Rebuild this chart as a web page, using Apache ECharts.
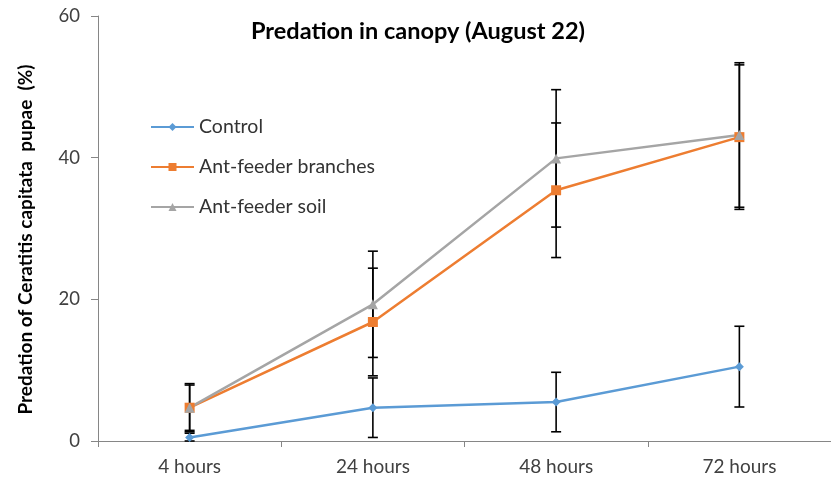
<!DOCTYPE html>
<html>
<head>
<meta charset="utf-8">
<title>Predation in canopy</title>
<script src="https://cdn.jsdelivr.net/npm/echarts@6/dist/echarts.min.js"></script>
<style>
  html, body { margin: 0; padding: 0; background: #fff; }
</style>
</head>
<body>
<div id="chart" style="width: 831px; height: 482px;"></div>
<script>
// data
var categories = ['4 hours', '24 hours', '48 hours', '72 hours'];
var control = [0.5, 4.7, 5.5, 10.5];
var controlErr = [0.6, 4.2, 4.2, 5.7];
var branches = [4.7, 16.8, 35.4, 42.9];
var branchesErr = [3.2, 7.6, 9.5, 10.2];
var soil = [4.7, 19.3, 39.9, 43.2];
var soilErr = [3.4, 7.5, 9.7, 10.2];

var chart = echarts.init(document.getElementById('chart'));
var font = 'Lato, "Open Sans", sans-serif';

function errData(vals, errs) {
    return vals.map(function (v, i) {
        return [i, Math.max(0, v - errs[i]), v + errs[i]];
    });
}

// black error bars with caps, drawn under the lines
function errSeries(vals, errs) {
    return {
        type: 'custom',
        z: 1,
        silent: true,
        renderItem: function (params, api) {
            var top = api.coord([api.value(0), api.value(2)]);
            var bot = api.coord([api.value(0), api.value(1)]);
            var w = 5;
            var st = { stroke: '#000', lineWidth: 1.6 };
            return {
                type: 'group',
                children: [
                    { type: 'line', shape: { x1: top[0], y1: top[1], x2: bot[0], y2: bot[1] }, style: st },
                    { type: 'line', shape: { x1: top[0] - w, y1: top[1], x2: top[0] + w, y2: top[1] }, style: st },
                    { type: 'line', shape: { x1: bot[0] - w, y1: bot[1], x2: bot[0] + w, y2: bot[1] }, style: st }
                ]
            };
        },
        data: errData(vals, errs)
    };
}

var option = {
    animation: false,
    title: {
        text: 'Predation in canopy (August 22)',
        left: 413,
        textAlign: 'center',
        top: 14,
        textStyle: { fontFamily: font, fontSize: 23.5, fontWeight: 'bold', color: '#000' }
    },
    legend: {
        orient: 'vertical',
        left: 145,
        top: 112,
        itemWidth: 43,
        itemHeight: 10,
        itemGap: 20,
        data: ['Control', 'Ant-feeder branches', 'Ant-feeder soil'],
        textStyle: { fontFamily: font, fontSize: 19.5, color: '#333' }
    },
    grid: { left: 98, right: -2, top: 16, bottom: 41, containLabel: false },
    xAxis: {
        type: 'category',
        data: categories,
        boundaryGap: true,
        axisLine: { lineStyle: { color: '#868686', width: 1 } },
        axisTick: { show: true, length: 6, lineStyle: { color: '#868686' } },
        axisLabel: { fontFamily: font, fontSize: 19, color: '#404040', margin: 16 }
    },
    yAxis: {
        type: 'value',
        min: 0,
        max: 60,
        interval: 20,
        name: 'Predation of Ceratitis capitata  pupae  (%)',
        nameLocation: 'middle',
        nameGap: 63,
        nameTextStyle: { fontFamily: font, fontSize: 19, fontWeight: 'bold', color: '#000', padding: [0, 22, 0, 0] },
        axisLine: { show: true, lineStyle: { color: '#868686', width: 1 } },
        axisTick: { show: true, length: 7, lineStyle: { color: '#868686' } },
        splitLine: { show: false },
        axisLabel: { fontFamily: font, fontSize: 18.5, color: '#404040', margin: 18 }
    },
    series: [
        {
            name: 'Control', type: 'line', data: control, z: 3,
            symbol: 'diamond', symbolSize: 9,
            lineStyle: { color: '#5B9BD5', width: 2.5 },
            itemStyle: { color: '#5B9BD5' }
        },
        {
            name: 'Ant-feeder branches', type: 'line', data: branches, z: 3,
            symbol: 'rect', symbolSize: 10,
            lineStyle: { color: '#ED7D31', width: 2.5 },
            itemStyle: { color: '#ED7D31' }
        },
        {
            name: 'Ant-feeder soil', type: 'line', data: soil, z: 3,
            symbol: 'triangle', symbolSize: 10,
            lineStyle: { color: '#A5A5A5', width: 2.5 },
            itemStyle: { color: '#A5A5A5' }
        },
        errSeries(control, controlErr),
        errSeries(branches, branchesErr),
        errSeries(soil, soilErr)
    ]
};

chart.setOption(option);
</script>
</body>
</html>
